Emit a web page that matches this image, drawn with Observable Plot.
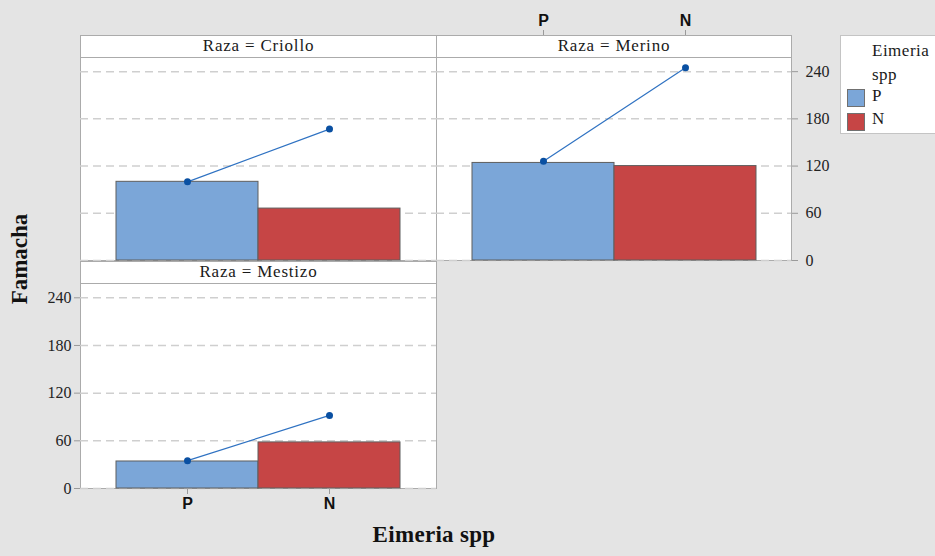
<!DOCTYPE html>
<html><head><meta charset="utf-8">
<script src="https://cdn.jsdelivr.net/npm/d3@7"></script>
<script src="https://cdn.jsdelivr.net/npm/@observablehq/plot@0.6"></script>
<style>
body{margin:0;background:#e4e4e4;}
#fig{position:relative;width:935px;height:556px;background:#e4e4e4;overflow:hidden;font-family:"Liberation Serif","Times New Roman",serif;color:#1a1a1a;}
.abs{position:absolute;font-family:"Liberation Serif","Times New Roman",serif;}
.strip{position:absolute;background:#fff;border:1px solid #ababab;box-sizing:border-box;text-align:center;font-family:"Liberation Serif","Times New Roman",serif;font-size:17px;letter-spacing:0.8px;line-height:20px;}
.legend{position:absolute;left:840px;top:35px;width:120px;height:99px;background:#fff;border:1px solid #c4c4c4;box-sizing:border-box;font-size:17px;}
.sw{position:absolute;width:18px;height:18px;border:1px solid #707070;box-sizing:border-box;}
</style></head><body><div id="fig"></div>
<script>
// ---- data ----
const razas = ["Criollo", "Merino", "Mestizo"];
const eimeria = ["P", "N"];
const barP = [100, 124, 34];
const barN = [66, 120, 58];
const lineP = [100, 126, 35];
const lineN = [167, 245, 92];
const yTicks = [0, 60, 120, 180, 240];
const colors = ["#7ba6d8", "#c64545"];
const yTitle = "Famacha";
const xTitle = "Eimeria spp";
const legendTitle = ["Eimeria", "spp"];

const fig = document.getElementById("fig");

const layout = {
  Criollo: {left: 0, top: 30, width: 440, height: 232, mL: 80, mR: 4, mT: 27, mB: 2, strip: [80, 35, 357, 23]},
  Merino:  {left: 436, top: 0, width: 400, height: 262, mL: 0, mR: 45, mT: 57, mB: 2, strip: [436, 35, 356, 23]},
  Mestizo: {left: 0, top: 262, width: 440, height: 256, mL: 80, mR: 4, mT: 21, mB: 30, strip: [80, 261, 357, 23]}
};

const tickNum = {fontSize: 16, fontFamily: "Liberation Serif", stroke: "#9a9a9a", fill: "#222", label: null, tickSize: 6};
const tickCat = {fontSize: 16, fontFamily: "Liberation Sans", fontWeight: "bold", stroke: "#9a9a9a", fill: "#111", label: null, tickSize: 6};

razas.forEach((raza, i) => {
  const L = layout[raza];
  const bars = eimeria.map((e, j) => ({eimeria: e, value: j === 0 ? barP[i] : barN[i]}));
  const pts = eimeria.map((e, j) => ({eimeria: e, value: j === 0 ? lineP[i] : lineN[i]}));
  const marks = [
    Plot.frame({fill: "white", stroke: "#ababab"}),
    Plot.gridY({ticks: yTicks, stroke: "#cfcfcf", strokeOpacity: 1, strokeWidth: 1.5, strokeDasharray: "8,5"}),
    Plot.barY(bars, {x: "eimeria", y: "value", fill: "eimeria", stroke: "#5e5e5e", strokeWidth: 1}),
    Plot.line(pts, {x: "eimeria", y: "value", stroke: "#2f72c2", strokeWidth: 1.2}),
    Plot.dot(pts, {x: "eimeria", y: "value", r: 3.5, fill: "#0a50a2", stroke: "none"})
  ];
  if (raza === "Merino") {
    marks.push(Plot.axisY({...tickNum, ticks: yTicks, anchor: "right", tickPadding: 8}));
    marks.push(Plot.axisX({...tickCat, anchor: "top", tickPadding: 4, dy: -22}));
  }
  if (raza === "Mestizo") {
    marks.push(Plot.axisY({...tickNum, ticks: yTicks, anchor: "left", tickPadding: 3}));
    marks.push(Plot.axisX({...tickCat, anchor: "bottom", tickPadding: 3}));
  }
  const chart = Plot.plot({
    width: L.width, height: L.height,
    marginLeft: L.mL, marginRight: L.mR, marginTop: L.mT, marginBottom: L.mB,
    style: {background: "transparent", overflow: "visible", fontFamily: "Liberation Serif"},
    x: {domain: eimeria, paddingInner: 0, paddingOuter: 0.25, axis: null},
    y: {domain: [0, 258], axis: null},
    color: {domain: eimeria, range: colors},
    marks
  });
  chart.style.position = "absolute";
  chart.style.left = L.left + "px";
  chart.style.top = L.top + "px";
  fig.appendChild(chart);

  const s = document.createElement("div");
  s.className = "strip";
  s.style.left = L.strip[0] + "px";
  s.style.top = L.strip[1] + "px";
  s.style.width = L.strip[2] + "px";
  s.style.height = L.strip[3] + "px";
  s.textContent = "Raza = " + raza;
  fig.appendChild(s);
});

// axis titles
const yt = document.createElement("div");
yt.className = "abs";
yt.textContent = yTitle;
Object.assign(yt.style, {left: "20px", top: "259px", transform: "translate(-50%,-50%) rotate(-90deg)", fontWeight: "bold", fontSize: "23px", whiteSpace: "nowrap", color: "#111"});
fig.appendChild(yt);

const xt = document.createElement("div");
xt.className = "abs";
xt.textContent = xTitle;
Object.assign(xt.style, {left: "434px", top: "522px", transform: "translateX(-50%)", fontWeight: "bold", fontSize: "23px", whiteSpace: "nowrap", color: "#111", letterSpacing: "0.3px"});
fig.appendChild(xt);

// legend
const lg = document.createElement("div");
lg.className = "legend";
fig.appendChild(lg);
legendTitle.forEach((t, k) => {
  const d = document.createElement("div");
  d.className = "abs";
  d.textContent = t;
  Object.assign(d.style, {left: "31px", top: (5 + k * 24) + "px", letterSpacing: "0.5px"});
  lg.appendChild(d);
});
eimeria.forEach((e, k) => {
  const sw = document.createElement("div");
  sw.className = "sw";
  Object.assign(sw.style, {left: "6px", top: (53 + k * 24) + "px", background: colors[k]});
  lg.appendChild(sw);
  const d = document.createElement("div");
  d.className = "abs";
  d.textContent = e;
  Object.assign(d.style, {left: "31px", top: (50 + k * 23) + "px"});
  lg.appendChild(d);
});
</script></body></html>
